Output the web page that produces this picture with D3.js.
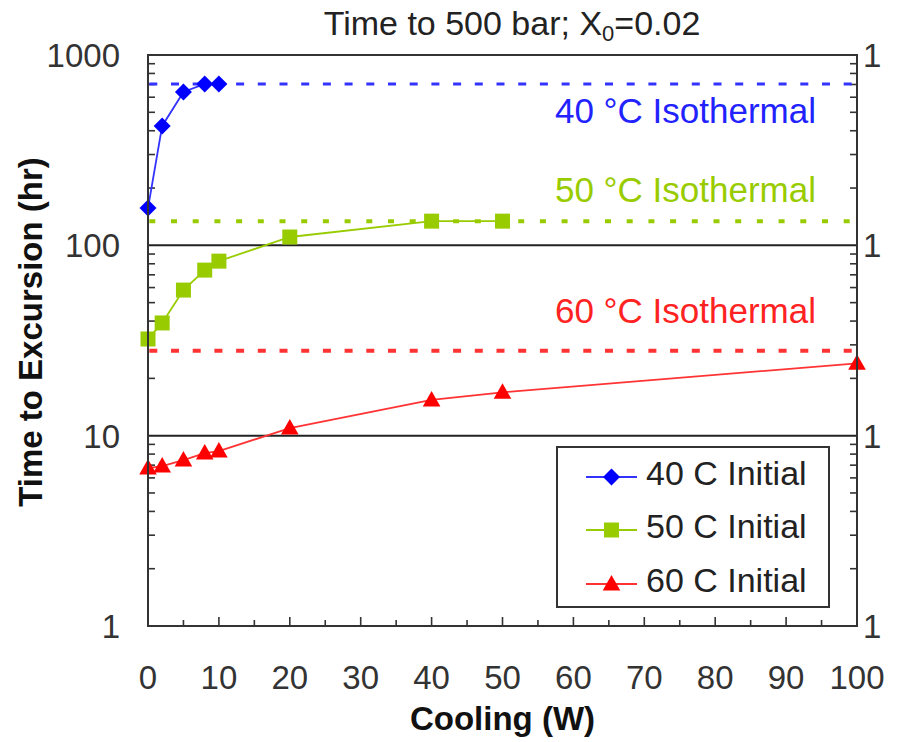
<!DOCTYPE html>
<html>
<head>
<meta charset="utf-8">
<script src="https://cdn.jsdelivr.net/npm/d3@7"></script>
<style>
  html, body { margin: 0; padding: 0; background: #fff; }
  svg { display: block; font-family: "Liberation Sans", Arial, sans-serif; }
</style>
</head>
<body>
<svg id="chart" width="898" height="742"></svg>
<script>
// ---- data ----
const coolingW = [0, 2, 5, 8, 10];
const coolingG = [0, 2, 5, 8, 10, 20, 40, 50];
const coolingR = [0, 2, 5, 8, 10, 20, 40, 50, 100];
const time40 = [157, 424, 639, 705, 705];
const time50 = [32.2, 39.1, 58.2, 74.1, 82.6, 110.6, 134, 134];
const time60 = [6.76, 6.92, 7.44, 8.1, 8.3, 10.96, 15.4, 16.9, 24.0];
const isoValues = [705, 134, 27.9];
const isoLabels = ["40 °C Isothermal", "50 °C Isothermal", "60 °C Isothermal"];
const seriesNames = ["40 C Initial", "50 C Initial", "60 C Initial"];
const xTicks = [0, 10, 20, 30, 40, 50, 60, 70, 80, 90, 100];
const yTicks = [1, 10, 100, 1000];
const yTickLabels = ["1", "10", "100", "1000"];
const rightTickLabels = ["1", "1", "1", "1"];

// ---- layout ----
const svg = d3.select("#chart");
const L = 148, R = 857, T = 55, B = 626;
const x = d3.scaleLinear().domain([0, 100]).range([L, R]);
const y = d3.scaleLog().domain([1, 1000]).range([B, T]);
const FS = 33;
const axisColor = "#333";

const colors = {
  blue: { mark: "#0000ff", line: "#3333ff", text: "#2222ff" },
  green: { mark: "#99cc00", line: "#99cc00", text: "#99cc00" },
  red: { mark: "#ff0000", line: "#ff3333", text: "#ff2222" }
};
// custom marker shapes
const diamond = "M0,-8.5L8.5,0L0,8.5L-8.5,0Z";
const square = "M-7.5,-7.5H7.5V7.5H-7.5Z";
const triangle = "M0,-9L8.8,6.5H-8.8Z";
const series = [
  { xs: coolingW, ys: time40, c: colors.blue, shape: diamond },
  { xs: coolingG, ys: time50, c: colors.green, shape: square },
  { xs: coolingR, ys: time60, c: colors.red, shape: triangle }
];

// minor ticks on y (inside, both sides)
const minorY = [];
for (let d = 1; d < 1000; d *= 10) for (let k = 2; k <= 9; k++) minorY.push(d * k);
const gTicks = svg.append("g").attr("stroke", axisColor).attr("stroke-width", 1.6);
gTicks.selectAll("line.ly").data(minorY).join("line")
  .attr("x1", L).attr("x2", L + 7).attr("y1", d => y(d)).attr("y2", d => y(d));
gTicks.selectAll("line.ry").data(minorY).join("line")
  .attr("x1", R).attr("x2", R - 7).attr("y1", d => y(d)).attr("y2", d => y(d));
// x ticks (inside, pointing up)
const xMinor = d3.range(5, 100, 10);
gTicks.selectAll("line.xm").data(xTicks.slice(1, -1)).join("line")
  .attr("x1", d => x(d)).attr("x2", d => x(d)).attr("y1", B).attr("y2", B - 9);
gTicks.selectAll("line.xn").data(xMinor).join("line")
  .attr("x1", d => x(d)).attr("x2", d => x(d)).attr("y1", B).attr("y2", B - 6);

// gridlines at decades
svg.append("g").selectAll("line").data(yTicks.slice(1, -1)).join("line")
  .attr("x1", L).attr("x2", R).attr("y1", d => y(d)).attr("y2", d => y(d))
  .attr("stroke", "#222").attr("stroke-width", 2);

// isothermal lines
const isoStyles = [
  { c: colors.blue.line, w: 3, dash: "8 13.7" },
  { c: colors.green.line, w: 4, dash: "6 15.7" },
  { c: colors.red.line, w: 4, dash: "8 13.7" }
];
svg.append("g").selectAll("line").data(isoValues).join("line")
  .attr("x1", x(0)).attr("x2", x(100))
  .attr("y1", d => y(d)).attr("y2", d => y(d))
  .attr("stroke", (d, i) => isoStyles[i].c)
  .attr("stroke-width", (d, i) => isoStyles[i].w)
  .attr("stroke-dasharray", (d, i) => isoStyles[i].dash)
  .attr("stroke-dashoffset", -1.3);

// iso labels
svg.append("g").selectAll("text").data(isoLabels).join("text")
  .attr("x", 816)
  .attr("y", (d, i) => [123, 202, 323][i])
  .attr("text-anchor", "end")
  .attr("font-size", 35)
  .attr("fill", (d, i) => [colors.blue.text, colors.green.text, colors.red.text][i])
  .text(d => d);

// series
const line = d3.line().x(d => x(d[0])).y(d => y(d[1]));
series.forEach(s => {
  const pts = s.xs.map((v, i) => [v, s.ys[i]]);
  svg.append("path").datum(pts).attr("d", line)
    .attr("fill", "none").attr("stroke", s.c.line).attr("stroke-width", 1.8);
  svg.append("g").selectAll("path").data(pts).join("path")
    .attr("transform", d => `translate(${x(d[0])},${y(d[1])})`)
    .attr("d", s.shape)
    .attr("fill", s.c.mark);
});

// frame
svg.append("rect").attr("x", L).attr("y", T).attr("width", R - L).attr("height", B - T)
  .attr("fill", "none").attr("stroke", axisColor).attr("stroke-width", 2);

// y tick labels
svg.append("g").selectAll("text").data(yTicks).join("text")
  .attr("x", 120).attr("y", d => y(d)).attr("dy", "0.36em")
  .attr("text-anchor", "end").attr("font-size", FS).attr("fill", axisColor)
  .text((d, i) => yTickLabels[i]);
svg.append("g").selectAll("text").data(yTicks).join("text")
  .attr("x", 863).attr("y", d => y(d)).attr("dy", "0.36em")
  .attr("text-anchor", "start").attr("font-size", FS).attr("fill", axisColor)
  .text((d, i) => rightTickLabels[i]);

// x tick labels
svg.append("g").selectAll("text").data(xTicks).join("text")
  .attr("x", d => x(d)).attr("y", 689)
  .attr("text-anchor", "middle").attr("font-size", FS).attr("fill", axisColor)
  .text(d => d);

// axis titles
svg.append("text").attr("x", (L + R) / 2).attr("y", 730)
  .attr("text-anchor", "middle").attr("font-size", FS).attr("font-weight", "bold")
  .attr("fill", "#111").text("Cooling (W)");
svg.append("text").attr("transform", `translate(42,332) rotate(-90)`)
  .attr("text-anchor", "middle").attr("font-size", FS).attr("font-weight", "bold")
  .attr("fill", "#111").text("Time to Excursion (hr)");

// title
const title = svg.append("text").attr("x", 512).attr("y", 35)
  .attr("text-anchor", "middle").attr("font-size", 34).attr("fill", "#222");
title.append("tspan").text("Time to 500 bar; X");
title.append("tspan").attr("font-size", 22).attr("dy", 6).text("0");
title.append("tspan").attr("dy", -6).text("=0.02");

// legend
const lg = svg.append("g");
lg.append("rect").attr("x", 557).attr("y", 447).attr("width", 272).attr("height", 160)
  .attr("fill", "#fff").attr("stroke", axisColor).attr("stroke-width", 2);
const legY = [477, 530, 584];
series.forEach((s, i) => {
  lg.append("line").attr("x1", 586).attr("x2", 637).attr("y1", legY[i]).attr("y2", legY[i])
    .attr("stroke", s.c.line).attr("stroke-width", 1.8);
  lg.append("path").attr("transform", `translate(611.5,${legY[i]})`)
    .attr("d", s.shape).attr("fill", s.c.mark);
  lg.append("text").attr("x", 646).attr("y", legY[i] + 8)
    .attr("font-size", 34).attr("fill", "#222").text(seriesNames[i]);
});
</script>
</body>
</html>
